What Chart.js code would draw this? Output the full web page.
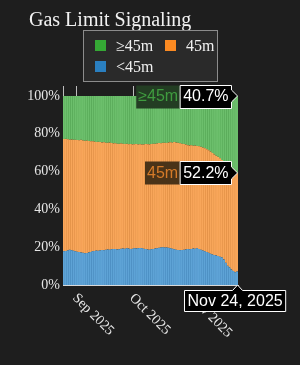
<!DOCTYPE html>
<html>
<head>
<meta charset="utf-8">
<script src="https://cdn.jsdelivr.net/npm/chart.js@4.4.1/dist/chart.umd.min.js"></script>
<style>
  html, body { margin: 0; padding: 0; background: #1e1e1e; }
  canvas { display: block; }
</style>
</head>
<body>
<canvas id="gasChart" width="300" height="365"></canvas>
<script>
// Дневные доли (в %), 25 авг – 24 ноя 2025
const startDay = [2025, 7, 25];
const dayCount = 92;

const below45 = [
  17.8, 18.0, 18.3, 18.6, 18.4, 18.1, 17.9,
  17.6, 17.4, 17.2, 17.0, 16.8, 16.9, 17.2, 17.5,
  17.8, 18.0, 18.2, 18.1, 18.3, 18.5, 18.4, 18.6,
  18.8, 18.7, 18.9, 19.1, 19.0, 18.8, 18.9, 19.2,
  19.3, 19.2, 19.4, 19.3, 19.1, 19.2, 19.4,
  19.3, 19.5, 19.6, 19.4, 19.2, 19.0, 18.8, 18.7,
  18.9, 19.1, 19.3, 19.5, 19.7, 19.9, 20.0, 19.8, 19.9, 19.7,
  19.5, 19.2, 18.9, 18.6, 18.5, 18.4, 18.5, 18.6,
  18.8, 19.0, 18.9, 19.1, 19.3, 19.2, 19.4, 19.1,
  18.6, 18.2, 17.8, 17.4, 17.0, 16.6, 16.2, 15.9,
  15.6, 15.3, 15.0, 14.6, 13.5, 11.8, 10.2, 9.3,
  8.2, 7.4, 6.8, 7.1
];
const exactly45 = [
  59.4, 59.4, 58.8, 58.3, 58.6, 58.7, 59.0,
  59.1, 59.2, 59.6, 59.5, 59.5, 59.5, 59.0, 58.5,
  58.3, 57.9, 57.5, 57.7, 57.3, 56.9, 57.1, 56.7,
  56.4, 56.7, 56.2, 55.8, 56.0, 56.0, 55.8, 55.7,
  55.5, 55.4, 55.3, 55.2, 55.5, 55.2, 55.1,
  55.3, 54.9, 54.9, 54.9, 55.2, 55.6, 55.7, 55.7,
  55.7, 55.7, 55.4, 55.4, 55.4, 55.1, 55.2, 55.5, 55.2, 55.7,
  56.0, 56.1, 56.7, 56.8, 56.7, 56.6, 56.3, 56.0,
  55.5, 55.0, 54.9, 54.8, 54.4, 54.6, 54.2, 54.3,
  54.5, 54.5, 54.5, 54.4, 54.3, 54.0, 53.7, 53.2,
  52.8, 52.5, 52.0, 51.5, 51.7, 52.5, 53.3, 53.3,
  53.6, 53.6, 53.6, 52.2
];
const above45 = [
  22.8, 22.6, 22.9, 23.1, 23.0, 23.2, 23.1,
  23.3, 23.4, 23.2, 23.5, 23.7, 23.6, 23.8, 24.0,
  23.9, 24.1, 24.3, 24.2, 24.4, 24.6, 24.5, 24.7,
  24.8, 24.6, 24.9, 25.1, 25.0, 25.2, 25.3, 25.1,
  25.2, 25.4, 25.3, 25.5, 25.4, 25.6, 25.5,
  25.4, 25.6, 25.5, 25.7, 25.6, 25.4, 25.5, 25.6,
  25.4, 25.2, 25.3, 25.1, 24.9, 25.0, 24.8, 24.7, 24.9, 24.6,
  24.5, 24.7, 24.4, 24.6, 24.8, 25.0, 25.2, 25.4,
  25.7, 26.0, 26.2, 26.1, 26.3, 26.2, 26.4, 26.6,
  26.9, 27.3, 27.7, 28.2, 28.7, 29.4, 30.1, 30.9,
  31.6, 32.2, 33.0, 33.9, 34.8, 35.7, 36.5, 37.4,
  38.2, 39.0, 39.6, 40.7
];
const yTicks = [0, 20, 40, 60, 80, 100];

const monthNames = ['Jan', 'Feb', 'Mar', 'Apr', 'May', 'Jun', 'Jul', 'Aug', 'Sep', 'Oct', 'Nov', 'Dec'];
const days = [];
for (let i = 0; i < dayCount; i++) {
  days.push(new Date(startDay[0], startDay[1], startDay[2] + i));
}
const labels = days.map(d => `${monthNames[d.getMonth()]} ${d.getDate()}, ${d.getFullYear()}`);

const serif = '"Liberation Serif", "DejaVu Serif", serif';
const sans = '"Liberation Sans", Arial, sans-serif';

// Рисуем заголовок, легенду, подписи месяцев и подсказки
const overlay = {
  id: 'overlay',
  beforeDraw(chart) {
    const ctx = chart.ctx;
    ctx.save();
    ctx.fillStyle = '#1e1e1e';
    ctx.fillRect(0, 0, chart.width, chart.height);
    ctx.restore();
  },
  afterDraw(chart) {
    const { ctx, chartArea, scales } = chart;
    const x = scales.x, y = scales.y;
    const step = (chartArea.right - chartArea.left) / labels.length;
    ctx.save();

    // заголовок
    ctx.fillStyle = '#f2f2f2';
    ctx.font = '20px ' + serif;
    ctx.textBaseline = 'alphabetic';
    ctx.textAlign = 'left';
    ctx.fillText('Gas Limit Signaling', 29, 26);

    // легенда
    ctx.fillStyle = '#2a2a2a';
    ctx.fillRect(83.5, 30.5, 134, 51);
    ctx.strokeStyle = '#8c8c8c';
    ctx.lineWidth = 1;
    ctx.strokeRect(83.5, 30.5, 134, 51);
    const order = chart.data.datasets.slice().reverse();
    ctx.font = '16px ' + serif;
    order.forEach((ds, k) => {
      const col = k % 2, row = Math.floor(k / 2);
      ctx.fillStyle = ds.legendColor;
      ctx.fillRect(95 + col * 70, 40 + row * 21, 11, 11);
      ctx.fillStyle = '#f0f0f0';
      ctx.fillText(ds.label, 116 + col * 70, 51 + row * 21);
    });

    // отметки и подписи месяцев
    ctx.strokeStyle = '#bdbdbd';
    ctx.beginPath();
    ctx.moveTo(chartArea.left + 0.5, chartArea.top - 10);
    ctx.lineTo(chartArea.left + 0.5, chartArea.top);
    ctx.stroke();
    ctx.font = '14px ' + serif;
    days.forEach((d, i) => {
      if (d.getDate() !== 1) return;
      const px = Math.round(x.getPixelForValue(i) - step / 2) + 0.5;
      ctx.beginPath();
      ctx.moveTo(px, chartArea.top - 10);
      ctx.lineTo(px, chartArea.top);
      ctx.stroke();
      ctx.save();
      ctx.translate(px - 2, chartArea.bottom + 11);
      ctx.rotate(Math.PI / 4);
      ctx.fillStyle = '#e6e6e6';
      ctx.textAlign = 'left';
      ctx.textBaseline = 'middle';
      ctx.fillText(`${monthNames[d.getMonth()]} ${d.getFullYear()}`, 0, 0);
      ctx.restore();
    });

    // подсказки для последнего дня
    const last = labels.length - 1;
    const tipX = x.getPixelForValue(last) + 0.5;
    ctx.font = '16px ' + sans;
    const sets = chart.data.datasets;
    let cum = 0;
    const tops = sets.map(ds => (cum += ds.data[last]));
    [2, 1].forEach(k => {
      const ds = sets[k];
      const ty = y.getPixelForValue(tops[k]);
      const valText = ds.data[last].toFixed(1) + '%';
      const vw = ctx.measureText(valText).width + 6;
      const nw = ctx.measureText(ds.label).width + 4;
      const x1 = Math.round(tipX - 7) + 0.5, x0 = x1 - vw;
      const top = Math.round(ty - 11.5) + 0.5, bot = top + 23;
      // имя серии
      ctx.fillStyle = ds.nameBg;
      ctx.fillRect(x0 - nw, top, nw, 23);
      ctx.fillStyle = ds.nameColor;
      ctx.textAlign = 'left';
      ctx.textBaseline = 'middle';
      ctx.fillText(ds.label, x0 - nw + 2, ty + 1);
      // значение
      ctx.beginPath();
      ctx.moveTo(x0, top);
      ctx.lineTo(x1, top);
      ctx.lineTo(x1, ty - 6);
      ctx.lineTo(tipX, ty);
      ctx.lineTo(x1, ty + 6);
      ctx.lineTo(x1, bot);
      ctx.lineTo(x0, bot);
      ctx.closePath();
      ctx.fillStyle = '#000';
      ctx.fill();
      ctx.strokeStyle = '#ffffff';
      ctx.stroke();
      ctx.fillStyle = '#ffffff';
      ctx.fillText(valText, x0 + 3, ty + 1);
    });

    // подпись даты под осью
    const dateText = labels[last];
    const dw = ctx.measureText(dateText).width + 6;
    const bx0 = Math.round(tipX - 3 - dw / 2) + 0.5;
    const btop = chartArea.bottom + 5.5, bbot = btop + 21;
    ctx.beginPath();
    ctx.moveTo(bx0, btop);
    ctx.lineTo(tipX - 5, btop);
    ctx.lineTo(tipX, chartArea.bottom);
    ctx.lineTo(tipX + 5, btop);
    ctx.lineTo(bx0 + dw, btop);
    ctx.lineTo(bx0 + dw, bbot);
    ctx.lineTo(bx0, bbot);
    ctx.closePath();
    ctx.fillStyle = '#000';
    ctx.fill();
    ctx.strokeStyle = '#ffffff';
    ctx.stroke();
    ctx.fillStyle = '#ffffff';
    ctx.textAlign = 'left';
    ctx.textBaseline = 'middle';
    ctx.fillText(dateText, bx0 + 3, (btop + bbot) / 2 + 1);

    ctx.restore();
  }
};

const barEdges = { left: 0.25, right: 0.25, top: 0, bottom: 0 };

const chart = new Chart(document.getElementById('gasChart').getContext('2d'), {
  type: 'bar',
  data: {
    labels: labels,
    datasets: [
      { label: '<45m', data: below45, backgroundColor: '#5ea3d6', borderColor: '#3f82b8',
        legendColor: '#2a7fc0', nameBg: '#1d3346', nameColor: '#3c8fd0' },
      { label: '45m', data: exactly45, backgroundColor: '#f8a65a', borderColor: '#d9853a',
        legendColor: '#fb8a22', nameBg: '#4a3318', nameColor: '#d57a28' },
      { label: '\u226545m', data: above45, backgroundColor: '#6cbf6c', borderColor: '#4c9f4c',
        legendColor: '#35a835', nameBg: '#233d23', nameColor: '#3f9c3f' }
    ]
  },
  options: {
    responsive: false,
    devicePixelRatio: 1,
    animation: false,
    events: [],
    layout: { padding: { top: 96, right: 62, left: 0, bottom: 0 } },
    datasets: { bar: { barPercentage: 1.0, categoryPercentage: 1.0, borderWidth: barEdges, borderSkipped: false } },
    plugins: {
      legend: { display: false },
      title: { display: false },
      tooltip: { enabled: false }
    },
    scales: {
      x: {
        stacked: true,
        grid: { display: false },
        border: { display: true, color: '#d8d8d8', width: 1 },
        ticks: { display: false },
        afterFit: s => { s.height = 80; }
      },
      y: {
        stacked: true,
        min: 0,
        max: 100,
        afterBuildTicks: s => { s.ticks = yTicks.map(v => ({ value: v })); },
        grid: { display: false, drawTicks: false },
        border: { display: false },
        ticks: {
          padding: 3,
          color: '#e6e6e6',
          font: { family: serif, size: 14 },
          callback: v => v + '%'
        },
        afterFit: s => { s.width = 63; }
      }
    }
  },
  plugins: [overlay]
});
</script>
</body>
</html>
